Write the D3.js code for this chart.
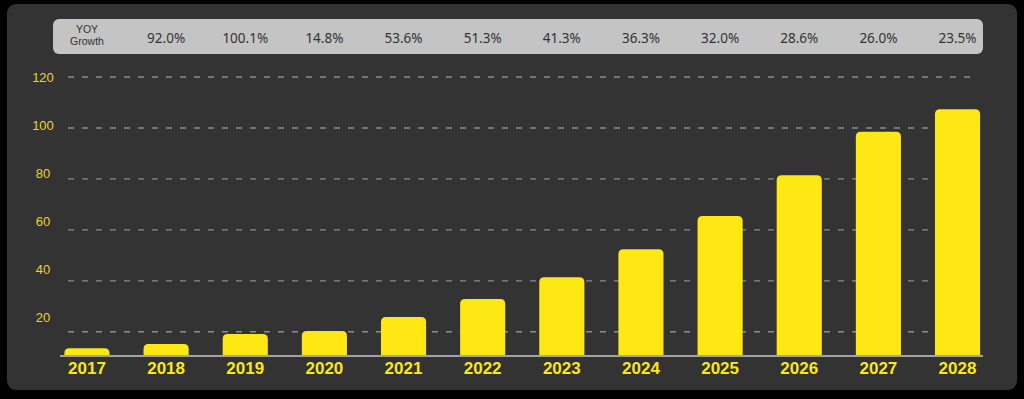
<!DOCTYPE html>
<html>
<head>
<meta charset="utf-8">
<script src="https://cdn.jsdelivr.net/npm/d3@7"></script>
<style>
  html, body { margin: 0; padding: 0; background: #000; }
  svg { display: block; }
</style>
</head>
<body>
<div id="chart"></div>
<script>
// chart data
const years = ["2017", "2018", "2019", "2020", "2021", "2022", "2023", "2024", "2025", "2026", "2027", "2028"];
const values = [13.5, 15.2, 19.1, 20.3, 25.8, 32.9, 41.4, 52.4, 65.4, 81.4, 98.5, 107.3];
const growth = ["92.0%", "100.1%", "14.8%", "53.6%", "51.3%", "41.3%", "36.3%", "32.0%", "28.6%", "26.0%", "23.5%"];
const yTicks = [20, 40, 60, 80, 100, 120];

const width = 1024, height = 399;
const yellow = "#fde814";

const svg = d3.select("#chart").append("svg")
    .attr("width", width)
    .attr("height", height);

// dark panel
svg.append("rect")
    .attr("x", 7).attr("y", 4)
    .attr("width", 1010).attr("height", 386)
    .attr("rx", 9)
    .attr("fill", "#333333");

const x = d3.scaleBand()
    .domain(years)
    .range([47.4, 997.1])
    .paddingInner(0.43)
    .paddingOuter(0.215);

// baseline sits a bit above zero in the original graphic
const y = d3.scaleLinear()
    .domain([10.7, 120])
    .range([355.5, 77]);

// tick labels are spaced a little tighter than the gridlines
const yLabel = d3.scaleLinear()
    .domain([20, 120])
    .range([317, 77]);

// YOY growth strip
svg.append("rect")
    .attr("x", 53).attr("y", 19)
    .attr("width", 930).attr("height", 35)
    .attr("rx", 6)
    .attr("fill", "#c4c4c4");

const cx0 = x("2017") + x.bandwidth() / 2;
svg.append("g").selectAll("text")
    .data(["YOY", "Growth"])
    .join("text")
    .attr("x", cx0)
    .attr("y", (d, i) => 32.5 + i * 12)
    .attr("text-anchor", "middle")
    .attr("font-family", "'Liberation Sans', Arial, sans-serif")
    .attr("font-size", 10.5)
    .attr("fill", "#333")
    .text(d => d);

svg.append("g").selectAll("text")
    .data(growth)
    .join("text")
    .attr("x", (d, i) => x(years[i + 1]) + x.bandwidth() / 2)
    .attr("y", 43)
    .attr("text-anchor", "middle")
    .attr("font-family", "'Noto Sans', sans-serif")
    .attr("font-size", 13.5)
    .attr("fill", "#333")
    .text(d => d);

// gridlines
svg.append("g").selectAll("line")
    .data(yTicks)
    .join("line")
    .attr("x1", 68).attr("x2", 976)
    .attr("y1", d => y(d)).attr("y2", d => y(d))
    .attr("stroke", "#8c8c8c")
    .attr("stroke-width", 1.4)
    .attr("stroke-dasharray", "6,8");

// y tick labels
svg.append("g").selectAll("text")
    .data(yTicks)
    .join("text")
    .attr("x", 43)
    .attr("y", d => yLabel(d))
    .attr("dy", "0.35em")
    .attr("text-anchor", "middle")
    .attr("font-family", "'Liberation Sans', Arial, sans-serif")
    .attr("font-size", 13)
    .attr("fill", "#e8d820")
    .text(d => d);

// bars with rounded tops
const r = 5;
function barPath(d, i) {
    const x0 = x(years[i]), w = x.bandwidth();
    const y0 = y.range()[0], y1 = y(d);
    const rr = Math.min(r, (y0 - y1));
    return `M${x0},${y0}V${y1 + rr}Q${x0},${y1} ${x0 + rr},${y1}H${x0 + w - rr}Q${x0 + w},${y1} ${x0 + w},${y1 + rr}V${y0}Z`;
}
svg.append("g").selectAll("path")
    .data(values)
    .join("path")
    .attr("d", barPath)
    .attr("fill", yellow);

// x axis line
svg.append("line")
    .attr("x1", 60).attr("x2", 983)
    .attr("y1", y.range()[0] + 0.5).attr("y2", y.range()[0] + 0.5)
    .attr("stroke", "#a3a3a3")
    .attr("stroke-width", 2);

// year labels
svg.append("g").selectAll("text")
    .data(years)
    .join("text")
    .attr("x", d => x(d) + x.bandwidth() / 2)
    .attr("y", 374)
    .attr("text-anchor", "middle")
    .attr("font-family", "'Liberation Sans', Arial, sans-serif")
    .attr("font-weight", "bold")
    .attr("font-size", 17)
    .attr("fill", yellow)
    .text(d => d);
</script>
</body>
</html>
